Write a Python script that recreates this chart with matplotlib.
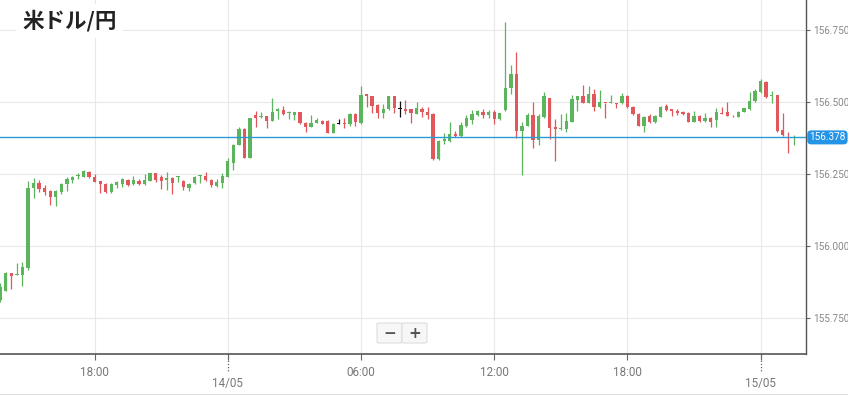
import pandas as pd
import numpy as np
import matplotlib
matplotlib.use("Agg")
import matplotlib.pyplot as plt
import matplotlib.dates as mdates
from matplotlib.patches import FancyBboxPatch
from matplotlib.lines import Line2D

# 15分足 OHLC
opens = [155.815, 155.846, 155.906, 155.900, 155.900, 155.924, 156.204, 156.219, 156.201, 156.192,
         156.172, 156.190, 156.215, 156.230, 156.244, 156.242, 156.259, 156.242, 156.227, 156.216,
         156.187, 156.211, 156.216, 156.230, 156.215, 156.228, 156.215, 156.228, 156.253, 156.239,
         156.230, 156.236, 156.242, 156.227, 156.201, 156.219, 156.244, 156.245, 156.230, 156.209,
         156.221, 156.242, 156.290, 156.352, 156.406, 156.308, 156.456, 156.450, 156.452, 156.436,
         156.471, 156.473, 156.463, 156.456, 156.465, 156.427, 156.413, 156.429, 156.435, 156.435,
         156.394, 156.424, 156.428, 156.423, 156.458, 156.429, 156.528, 156.520, 156.491, 156.464,
         156.476, 156.520, 156.476, 156.477, 156.476, 156.459, 156.476, 156.467, 156.458, 156.302,
         156.367, 156.367, 156.389, 156.384, 156.419, 156.438, 156.456, 156.467, 156.456, 156.467,
         156.442, 156.473, 156.548, 156.597, 156.400, 156.419, 156.456, 156.369, 156.450, 156.514,
         156.415, 156.407, 156.407, 156.433, 156.508, 156.520, 156.499, 156.529, 156.485, 156.499,
         156.496, 156.497, 156.496, 156.523, 156.485, 156.458, 156.419, 156.452, 156.430, 156.450,
         156.488, 156.477, 156.471, 156.465, 156.462, 156.433, 156.454, 156.436, 156.444, 156.438,
         156.462, 156.465, 156.453, 156.450, 156.465, 156.476, 156.505, 156.535, 156.572, 156.520,
         156.525, 156.404, 156.387, 156.376]
highs = [155.873, 155.910, 155.907, 155.943, 155.944, 156.228, 156.236, 156.230, 156.213, 156.195,
         156.196, 156.219, 156.240, 156.245, 156.253, 156.265, 156.261, 156.251, 156.228, 156.219,
         156.221, 156.228, 156.236, 156.234, 156.245, 156.233, 156.250, 156.256, 156.256, 156.248,
         156.257, 156.242, 156.244, 156.230, 156.221, 156.244, 156.246, 156.257, 156.233, 156.233,
         156.256, 156.305, 156.354, 156.415, 156.410, 156.447, 156.470, 156.467, 156.452, 156.514,
         156.479, 156.487, 156.471, 156.465, 156.467, 156.433, 156.456, 156.444, 156.439, 156.439,
         156.429, 156.441, 156.444, 156.462, 156.462, 156.557, 156.528, 156.522, 156.494, 156.494,
         156.523, 156.522, 156.506, 156.508, 156.476, 156.500, 156.485, 156.485, 156.462, 156.369,
         156.393, 156.430, 156.400, 156.430, 156.456, 156.473, 156.473, 156.477, 156.473, 156.473,
         156.464, 156.778, 156.630, 156.676, 156.430, 156.462, 156.500, 156.458, 156.537, 156.516,
         156.442, 156.458, 156.462, 156.525, 156.523, 156.560, 156.557, 156.545, 156.543, 156.499,
         156.525, 156.499, 156.531, 156.525, 156.487, 156.462, 156.454, 156.458, 156.456, 156.487,
         156.493, 156.477, 156.476, 156.468, 156.465, 156.470, 156.456, 156.462, 156.450, 156.479,
         156.485, 156.500, 156.456, 156.468, 156.480, 156.537, 156.545, 156.580, 156.574, 156.540,
         156.525, 156.464, 156.395, 156.386]
lows = [155.805, 155.845, 155.852, 155.900, 155.862, 155.918, 156.169, 156.187, 156.178, 156.143,
        156.141, 156.182, 156.193, 156.221, 156.234, 156.242, 156.236, 156.222, 156.184, 156.186,
        156.184, 156.201, 156.207, 156.209, 156.213, 156.213, 156.213, 156.228, 156.224, 156.199,
        156.196, 156.182, 156.224, 156.196, 156.193, 156.216, 156.219, 156.228, 156.207, 156.207,
        156.201, 156.239, 156.265, 156.350, 156.308, 156.308, 156.415, 156.444, 156.410, 156.436,
        156.441, 156.456, 156.441, 156.439, 156.423, 156.395, 156.413, 156.427, 156.423, 156.394,
        156.392, 156.424, 156.410, 156.419, 156.419, 156.425, 156.485, 156.464, 156.447, 156.444,
        156.473, 156.462, 156.450, 156.458, 156.429, 156.458, 156.450, 156.442, 156.300, 156.300,
        156.354, 156.363, 156.381, 156.381, 156.415, 156.423, 156.454, 156.447, 156.447, 156.423,
        156.439, 156.470, 156.529, 156.377, 156.248, 156.416, 156.342, 156.352, 156.447, 156.372,
        156.296, 156.404, 156.396, 156.430, 156.468, 156.499, 156.499, 156.468, 156.479, 156.444,
        156.496, 156.479, 156.493, 156.481, 156.456, 156.419, 156.398, 156.427, 156.427, 156.448,
        156.471, 156.454, 156.456, 156.456, 156.430, 156.430, 156.433, 156.433, 156.415, 156.413,
        156.459, 156.454, 156.450, 156.448, 156.465, 156.473, 156.500, 156.531, 156.516, 156.499,
        156.398, 156.384, 156.325, 156.352]
closes = [155.860, 155.906, 155.898, 155.902, 155.927, 156.201, 156.221, 156.199, 156.190, 156.172,
          156.192, 156.216, 156.234, 156.242, 156.248, 156.261, 156.240, 156.224, 156.216, 156.187,
          156.216, 156.222, 156.233, 156.211, 156.230, 156.216, 156.230, 156.253, 156.230, 156.228,
          156.236, 156.219, 156.243, 156.205, 156.216, 156.240, 156.245, 156.230, 156.213, 156.222,
          156.244, 156.296, 156.352, 156.406, 156.308, 156.444, 156.444, 156.453, 156.436, 156.465,
          156.475, 156.459, 156.465, 156.465, 156.427, 156.413, 156.427, 156.439, 156.423, 156.394,
          156.425, 156.424, 156.424, 156.458, 156.433, 156.525, 156.520, 156.487, 156.464, 156.477,
          156.520, 156.479, 156.476, 156.471, 156.462, 156.479, 156.467, 156.456, 156.302, 156.366,
          156.371, 156.390, 156.384, 156.421, 156.447, 156.459, 156.471, 156.456, 156.467, 156.442,
          156.462, 156.548, 156.597, 156.400, 156.419, 156.456, 156.369, 156.454, 156.520, 156.412,
          156.406, 156.410, 156.435, 156.511, 156.523, 156.499, 156.528, 156.485, 156.500, 156.497,
          156.500, 156.495, 156.523, 156.482, 156.458, 156.419, 156.450, 156.430, 156.452, 156.485,
          156.473, 156.468, 156.464, 156.458, 156.433, 156.454, 156.436, 156.444, 156.433, 156.465,
          156.460, 156.454, 156.451, 156.465, 156.479, 156.505, 156.540, 156.574, 156.517, 156.525,
          156.401, 156.386, 156.385, 156.378]
last_price = 156.378

times = pd.date_range("2024-05-13 13:45", periods=len(opens), freq="15min")
x = mdates.date2num(times)
step = 1 / 96

W, H = 848, 395
fig = plt.figure(figsize=(W / 100, H / 100), dpi=100)
fig.patch.set_facecolor("white")
ax = fig.add_axes([0, 41 / H, 806 / W, 354 / H])

o = np.array(opens)
c = np.array(closes)
cols = np.where(c > o, "#5cb55c", np.where(c < o, "#e2575c", "#111111"))

ax.vlines(x, lows, highs, colors=cols, linewidth=0.9, zorder=3)
body = np.maximum(np.abs(c - o), 0.0025)
ax.bar(x, body, bottom=np.minimum(o, c), width=step * 0.6, color=cols, linewidth=0, zorder=4)

t0 = mdates.date2num(pd.Timestamp("2024-05-13 18:00"))
ax.set_xlim(t0 - 17.05 * step, t0 + 128.18 * step)
ax.set_ylim(155.626, 156.855)

# 目盛り
xt = mdates.date2num(pd.to_datetime(["2024-05-13 18:00", "2024-05-14 00:00", "2024-05-14 06:00",
                                     "2024-05-14 12:00", "2024-05-14 18:00", "2024-05-15 00:00"]))
ax.set_xticks(xt)
ax.set_xticklabels(["18:00", "", "06:00", "12:00", "18:00", ""])
yt = [155.75, 156.0, 156.25, 156.5, 156.75]
ax.set_yticks(yt)
ax.set_yticklabels([f"{v:.3f}" for v in yt])
ax.yaxis.tick_right()
ax.tick_params(axis="x", length=4, color="#666", labelcolor="#777", labelsize=8.4, pad=5)
ax.tick_params(axis="y", length=3, color="#666", labelcolor="#888", labelsize=7.2, pad=2)
for lab in ax.get_xticklabels() + ax.get_yticklabels():
    lab.set_family("Roboto")

ax.grid(True, color="#e8e8e8", linewidth=0.8)
ax.set_axisbelow(True)
for s in ["top", "left"]:
    ax.spines[s].set_visible(False)
ax.spines["bottom"].set_color("#555")
ax.spines["bottom"].set_linewidth(1.2)
ax.spines["right"].set_color("#555")
ax.spines["right"].set_linewidth(1.0)

# 日付ラベル
for xd, lab in zip([xt[1], xt[5]], ["14/05", "15/05"]):
    ax.add_line(Line2D([xd, xd], [0, -0.05], transform=ax.get_xaxis_transform(),
                       color="#666", linestyle=(0, (1, 1.5)), linewidth=0.9, clip_on=False))
    ax.text(xd, -0.065, lab, transform=ax.get_xaxis_transform(), ha="center", va="top",
            fontsize=8.4, color="#777", family="Roboto")

# 現在値ライン
ax.axhline(last_price, color="#2a9ad6", linewidth=1.0, zorder=5)
ax.text(1.004, last_price, f"{last_price:.3f}", transform=ax.get_yaxis_transform(),
        ha="left", va="center", fontsize=7.2, color="white", family="Roboto", zorder=6,
        bbox=dict(boxstyle="round,pad=0.2,rounding_size=0.4", fc="#2394e6", ec="none"), clip_on=False)

# タイトル
fig.text(22 / W, 1 - 21 / H, "米ドル/円", ha="left", va="center", fontsize=15.5, fontweight="bold",
         color="#222", family=["Noto Sans CJK JP", "DejaVu Sans"],
         bbox=dict(boxstyle="square,pad=0.3", fc="white", ec="none"))

# ズームボタン
def px(x0, y0):
    return x0 / W, 1 - y0 / H

for x0, sym in [(377, "−"), (402, "+")]:
    bx, by = px(x0, 343)
    fig.patches.append(FancyBboxPatch((bx, by), 25 / W, 20 / H, boxstyle="round,pad=0,rounding_size=0.003",
                                      transform=fig.transFigure, fc="#f7f7f7", ec="#dddddd", lw=0.8))
    fig.text((x0 + 12.5) / W, 1 - 333 / H, sym, ha="center", va="center", fontsize=11,
             fontweight="bold", color="#555")

fig.add_artist(Line2D([0, 1], [0.5 / H, 0.5 / H], transform=fig.transFigure, color="#dddddd", linewidth=1.5))

fig.savefig("out.png", dpi=100)
